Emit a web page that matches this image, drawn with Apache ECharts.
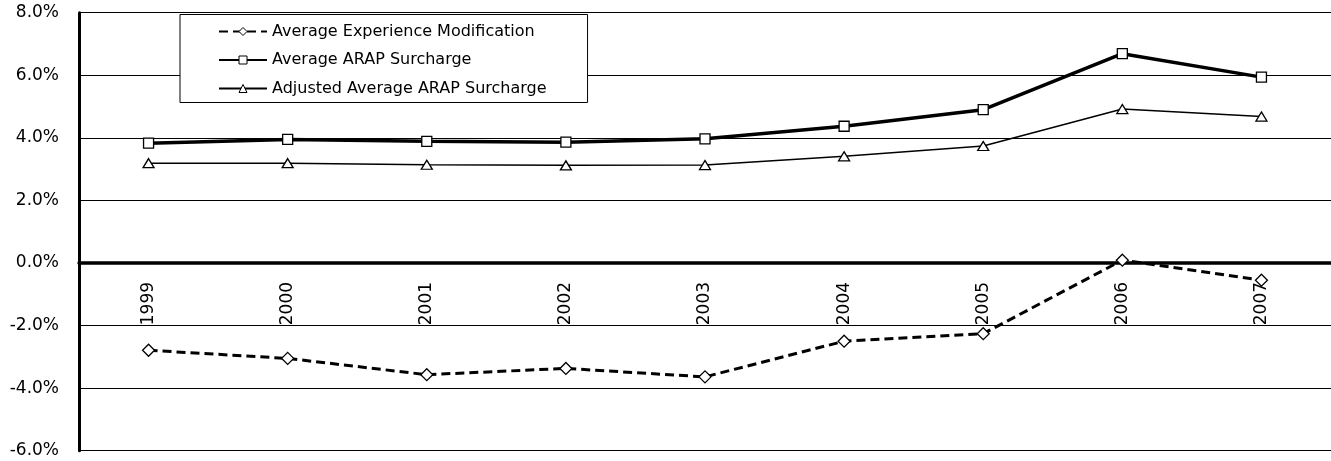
<!DOCTYPE html>
<html>
<head>
<meta charset="utf-8">
<script src="https://cdn.jsdelivr.net/npm/echarts@6/dist/echarts.min.js"></script>
<style>
html,body{margin:0;padding:0;background:#fff;}
#chart{width:1331px;height:461px;}
</style>
</head>
<body>
<div id="chart"></div>
<script>
const categories = ['1999','2000','2001','2002','2003','2004','2005','2006','2007'];
const seriesNames = ['Average Experience Modification','Average ARAP Surcharge','Adjusted Average ARAP Surcharge'];
const avgExperienceMod = [-2.79, -3.05, -3.57, -3.37, -3.64, -2.50, -2.26, 0.09, -0.55];
const avgArapSurcharge = [3.83, 3.95, 3.89, 3.86, 3.97, 4.37, 4.90, 6.69, 5.94];
const adjAvgArapSurcharge = [3.19, 3.19, 3.14, 3.12, 3.13, 3.41, 3.74, 4.92, 4.68];
const yTicks = { min: -6, max: 8, interval: 2 };

const FONT = 'DejaVu Sans';
const TOP = 12.7, BOTTOM = 10.3, H = 461;
// pixel position of zero line (for the label-carrying helper grid)
const zeroFrac = (yTicks.max - 0) / (yTicks.max - yTicks.min);
const zeroY = TOP + zeroFrac * (H - TOP - BOTTOM);

const chart = echarts.init(document.getElementById('chart'), null, {renderer:'canvas'});
chart.setOption({
  animation: false,
  backgroundColor: '#fff',
  grid: [
    { left: 79, right: 0, top: TOP, bottom: BOTTOM, containLabel: false, outerBoundsMode: 'none' },
    { left: 79, right: 0, top: TOP, bottom: H - zeroY, containLabel: false, outerBoundsMode: 'none' }
  ],
  legend: {
    orient: 'vertical',
    left: 180, top: 14.5,
    padding: [8, 41, 5, 38],
    itemWidth: 48, itemHeight: 10, itemGap: 10.5,
    backgroundColor: '#fff',
    borderColor: '#000', borderWidth: 1,
    itemStyle: { color: '#fff', borderColor: '#000', borderWidth: 1 },
    textStyle: { fontFamily: FONT, fontSize: 16, color: '#000', lineHeight: 18 },
    data: seriesNames
  },
  xAxis: [
    {
      type: 'category', gridIndex: 0,
      data: categories,
      boundaryGap: true,
      axisLine: { onZero: true, lineStyle: { color: '#000', width: 3.5 } },
      axisTick: { show: false },
      axisLabel: { show: false },
      splitLine: { show: false }
    },
    {
      type: 'category', gridIndex: 1,
      data: categories,
      boundaryGap: true,
      position: 'bottom',
      axisLine: { show: false },
      axisTick: { show: false },
      axisLabel: { rotate: 90, margin: 19, fontFamily: FONT, fontSize: 17, color: '#000' },
      splitLine: { show: false }
    }
  ],
  yAxis: [
    {
      type: 'value', gridIndex: 0,
      min: yTicks.min, max: yTicks.max, interval: yTicks.interval,
      axisLine: { show: true, onZero: false, lineStyle: { color: '#000', width: 3 } },
      axisTick: { show: false },
      axisLabel: { margin: 20, fontFamily: FONT, fontSize: 17, color: '#000',
        formatter: v => v.toFixed(1) + '%' },
      splitLine: { show: true, lineStyle: { color: '#000', width: 1 } }
    },
    {
      type: 'value', gridIndex: 1, min: 0, max: 1,
      axisLine: { show: false }, axisTick: { show: false },
      axisLabel: { show: false }, splitLine: { show: false }
    }
  ],
  series: [
    {
      name: seriesNames[0], type: 'line', data: avgExperienceMod,
      xAxisIndex: 0, yAxisIndex: 0,
      symbol: 'diamond', symbolSize: 12, showAllSymbol: true,
      lineStyle: { color: '#000', width: 3, type: [9, 5] },
      itemStyle: { color: '#fff', borderColor: '#000', borderWidth: 1.3 },
      z: 3
    },
    {
      name: seriesNames[1], type: 'line', data: avgArapSurcharge,
      xAxisIndex: 0, yAxisIndex: 0,
      symbol: 'rect', symbolSize: 10, showAllSymbol: true,
      lineStyle: { color: '#000', width: 3.5 },
      itemStyle: { color: '#fff', borderColor: '#000', borderWidth: 1.3 },
      z: 3
    },
    {
      name: seriesNames[2], type: 'line', data: adjAvgArapSurcharge,
      xAxisIndex: 0, yAxisIndex: 0,
      symbol: 'triangle', symbolSize: [11, 9], showAllSymbol: true,
      lineStyle: { color: '#000', width: 1.5 },
      itemStyle: { color: '#fff', borderColor: '#000', borderWidth: 1.3 },
      z: 3
    }
  ]
});
</script>
</body>
</html>
